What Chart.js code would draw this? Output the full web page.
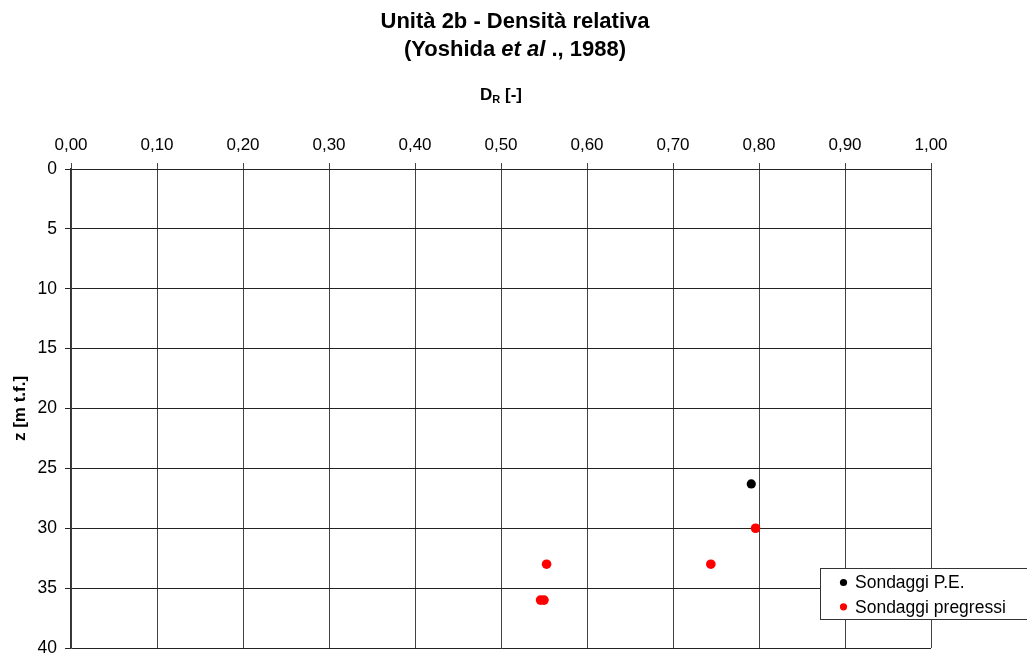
<!DOCTYPE html>
<html>
<head>
<meta charset="utf-8">
<title>Unità 2b - Densità relativa</title>
<script src="https://cdn.jsdelivr.net/npm/chart.js@4.4.1/dist/chart.umd.min.js"></script>
<style>
  html, body { margin: 0; padding: 0; background: #ffffff; }
  #wrap { width: 1027px; height: 655px; position: relative; }
</style>
</head>
<body>
<div id="wrap"><canvas id="chart" width="1027" height="655"></canvas></div>
<script>
// Titles and axis labels
const titleLine1 = 'Unità 2b - Densità relativa';
const titleLine2 = [['(Yoshida ', false], ['et al ', true], ['., 1988)', false]];
const xTitleMain = 'D';
const xTitleSub = 'R';
const xTitleRest = ' [-]';
const yTitle = 'z [m t.f.]';

// Series
const seriesNames = ['Sondaggi P.E.', 'Sondaggi pregressi'];
const seriesColors = ['#000000', '#ff0000'];

// Relative density D_R [-] and depth z [m] per series
const peDR = [0.791];
const peZ = [26.3];
const prevDR = [0.796, 0.553, 0.744, 0.546, 0.550];
const prevZ = [30, 33, 33, 36, 36];

// Axis ranges
const xMin = 0, xMax = 1, xStep = 0.1;
const zMin = 0, zMax = 40, zStep = 5;

const FONT = "'Liberation Sans', Arial, Helvetica, sans-serif";

function toPoints(xs, ys) {
  return xs.map((x, i) => ({ x: x, y: ys[i] }));
}

// Draws the two-line title, the axis titles and the boxed legend
const annotations = {
  id: 'annotations',
  afterDraw(chart) {
    const ctx = chart.ctx;
    const area = chart.chartArea;
    ctx.save();
    ctx.fillStyle = '#000';
    ctx.textBaseline = 'alphabetic';

    // Title
    const cx = 515;
    ctx.font = 'bold 22px ' + FONT;
    ctx.textAlign = 'center';
    ctx.fillText(titleLine1, cx, 28);

    ctx.textAlign = 'left';
    let total = 0;
    const widths = titleLine2.map(([txt, it]) => {
      ctx.font = (it ? 'italic ' : '') + 'bold 22px ' + FONT;
      const w = ctx.measureText(txt).width;
      total += w;
      return w;
    });
    let x = cx - total / 2;
    titleLine2.forEach(([txt, it], i) => {
      ctx.font = (it ? 'italic ' : '') + 'bold 22px ' + FONT;
      ctx.fillText(txt, x, 56);
      x += widths[i];
    });

    // X axis title with subscript
    const xc = (area.left + area.right) / 2;
    ctx.font = 'bold 17px ' + FONT;
    const wMain = ctx.measureText(xTitleMain).width;
    const wRest = ctx.measureText(xTitleRest).width;
    ctx.font = 'bold 11px ' + FONT;
    const wSub = ctx.measureText(xTitleSub).width;
    let tx = xc - (wMain + wSub + wRest) / 2;
    ctx.font = 'bold 17px ' + FONT;
    ctx.fillText(xTitleMain, tx, 100);
    tx += wMain;
    ctx.font = 'bold 11px ' + FONT;
    ctx.fillText(xTitleSub, tx, 103);
    tx += wSub;
    ctx.font = 'bold 17px ' + FONT;
    ctx.fillText(xTitleRest, tx, 100);

    // Y axis title
    ctx.save();
    ctx.translate(20, (area.top + area.bottom) / 2);
    ctx.rotate(-Math.PI / 2);
    ctx.textAlign = 'center';
    ctx.textBaseline = 'middle';
    ctx.font = 'bold 17px ' + FONT;
    ctx.fillText(yTitle, 0, 0);
    ctx.restore();

    // Legend box
    const lx = 820.5, ly = 568.5, lw = 230, lh = 51;
    ctx.fillStyle = '#ffffff';
    ctx.fillRect(lx, ly, lw, lh);
    ctx.strokeStyle = '#333';
    ctx.lineWidth = 1;
    ctx.strokeRect(lx, ly, lw, lh);
    ctx.font = '17.5px ' + FONT;
    ctx.textAlign = 'left';
    ctx.textBaseline = 'middle';
    chart.data.datasets.forEach((ds, i) => {
      const ey = 582.5 + i * 24.3;
      ctx.fillStyle = ds.backgroundColor;
      ctx.beginPath();
      ctx.arc(843.5, ey, 3.6, 0, Math.PI * 2);
      ctx.fill();
      ctx.fillStyle = '#000';
      ctx.fillText(ds.label, 855, ey + 1);
    });
    ctx.restore();
  }
};

new Chart(document.getElementById('chart'), {
  type: 'scatter',
  data: {
    datasets: [
      {
        label: seriesNames[0],
        data: toPoints(peDR, peZ),
        backgroundColor: seriesColors[0],
        borderColor: seriesColors[0],
        pointRadius: 4.6,
        pointBorderWidth: 0
      },
      {
        label: seriesNames[1],
        data: toPoints(prevDR, prevZ),
        backgroundColor: seriesColors[1],
        borderColor: seriesColors[1],
        pointRadius: 4.8,
        pointBorderWidth: 0
      }
    ]
  },
  options: {
    responsive: false,
    animation: false,
    devicePixelRatio: 1,
    layout: { padding: { left: 0, top: 0, right: 96, bottom: 7 } },
    plugins: {
      legend: { display: false },
      title: { display: false },
      tooltip: { enabled: false }
    },
    scales: {
      x: {
        type: 'linear',
        position: 'top',
        min: xMin,
        max: xMax,
        afterFit(scale) {
          scale.height = 169;
          scale.paddingLeft = 0;
          scale.paddingRight = 0;
        },
        ticks: {
          stepSize: xStep,
          padding: 7,
          color: '#000',
          font: { family: FONT, size: 17 },
          callback: (v) => Number(v).toFixed(2).replace('.', ',')
        },
        grid: { color: '#444', lineWidth: 1, tickLength: 6, tickColor: '#444' },
        border: { display: true, color: '#222', width: 1 }
      },
      y: {
        type: 'linear',
        position: 'left',
        reverse: true,
        min: zMin,
        max: zMax,
        afterFit(scale) {
          scale.width = 71;
          scale.paddingTop = 0;
          scale.paddingBottom = 0;
        },
        ticks: {
          stepSize: zStep,
          padding: 8,
          color: '#000',
          font: { family: FONT, size: 17.5 }
        },
        grid: { color: '#222', lineWidth: 1, tickLength: 6, tickColor: '#222' },
        border: { display: true, color: '#333', width: 1.5 }
      }
    }
  },
  plugins: [annotations]
});
</script>
</body>
</html>
